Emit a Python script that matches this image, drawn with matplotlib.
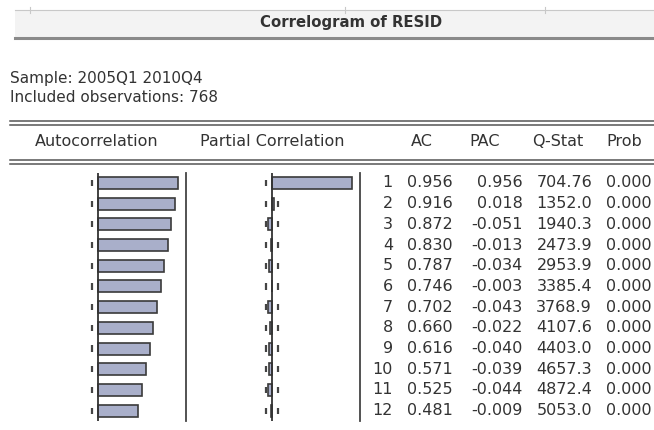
import numpy as np
import matplotlib.pyplot as plt

# data
lags = np.arange(1, 13)
ac = [0.956, 0.916, 0.872, 0.830, 0.787, 0.746, 0.702, 0.660, 0.616, 0.571, 0.525, 0.481]
pac = [0.956, 0.018, -0.051, -0.013, -0.034, -0.003, -0.043, -0.022, -0.040, -0.039, -0.044, -0.009]
qstat = ["704.76", "1352.0", "1940.3", "2473.9", "2953.9", "3385.4",
         "3768.9", "4107.6", "4403.0", "4657.3", "4872.4", "5053.0"]
prob = ["0.000"] * 12
n_obs = 768
conf = 2 / np.sqrt(n_obs)

W, H = 654, 430
txt = "#333333"
bar_fill = "#a9afca"
bar_edge = "#3a3a3a"
fs = 11.5

fig = plt.figure(figsize=(W / 100, H / 100), dpi=100)
plt.rcParams["font.family"] = ["DejaVu Sans"]

# background axes in pixel units
bg = fig.add_axes([0, 0, 1, 1])
bg.set_xlim(0, W)
bg.set_ylim(H, 0)
bg.axis("off")

# title bar
bg.fill_between([15, W], 10, 37, color="#f3f3f3", lw=0)
bg.plot([15, W], [10, 10], color="#c8c8c8", lw=0.8)
for tx in [30, 345, 545]:
    bg.plot([tx, tx], [7, 13], color="#c8c8c8", lw=0.8)
bg.text(351, 22, "Correlogram of RESID", ha="center", va="center",
        fontsize=10.7, fontweight="bold", color=txt)
bg.plot([15, W], [38, 38], color="#8a8a8a", lw=2.2)
bg.text(10, 78, "Sample: 2005Q1 2010Q4", ha="left", va="center", fontsize=11, color=txt)
bg.text(10, 98, "Included observations: %d" % n_obs, ha="left", va="center",
        fontsize=11, color=txt)

for yy in [121, 125, 160, 164]:
    bg.plot([10, W], [yy, yy], color="#555555", lw=1.1)

for x, lab in [(97, "Autocorrelation"), (272, "Partial Correlation"), (422, "AC"),
               (485, "PAC"), (558, "Q-Stat"), (624, "Prob")]:
    bg.text(x, 142, lab, ha="center", va="center", fontsize=fs, color=txt)

# rows area
row_h = 20.7
top = 172.6
bottom = top + 12 * row_h
ax_h = (bottom - top) / H
ax_b = (H - bottom) / H
unit = 84  # pixels per 1.0 correlation


def panel(left_px, values):
    ax = fig.add_axes([left_px / W, ax_b, 2 * unit / W, ax_h])
    ax.set_xlim(-1, 1)
    ax.set_ylim(12.5, 0.5)
    ax.axis("off")
    ax.patch.set_alpha(0)
    for s in [-conf, conf]:
        ax.errorbar([s] * 12, lags, yerr=0.15, fmt="none", ecolor="#444444", lw=1.6)
    ax.barh(lags, values, height=0.58, color=bar_fill, edgecolor=bar_edge, lw=1.2, zorder=3)
    ax.axvline(0, color="#333333", lw=1.3, zorder=4)
    ax.axvline(1 + 4 / unit, color="#444444", lw=1.3, clip_on=False)
    return ax


panel(98 - unit, ac)
panel(272 - unit, pac)

# table of numbers
tab = fig.add_axes([360 / W, ax_b, (W - 360) / W, ax_h])
tab.set_xlim(360, W)
tab.set_ylim(12.5, 0.5)
tab.axis("off")
tab.patch.set_alpha(0)
for i, lag in enumerate(lags):
    tab.text(393, lag, str(lag), ha="right", va="center", fontsize=fs, color=txt)
    tab.text(453, lag, "%.3f" % ac[i], ha="right", va="center", fontsize=fs, color=txt)
    tab.text(523, lag, "%.3f" % pac[i], ha="right", va="center", fontsize=fs, color=txt)
    tab.text(592, lag, qstat[i], ha="right", va="center", fontsize=fs, color=txt)
    tab.text(652, lag, prob[i], ha="right", va="center", fontsize=fs, color=txt)

fig.savefig("out.png", dpi=100)
